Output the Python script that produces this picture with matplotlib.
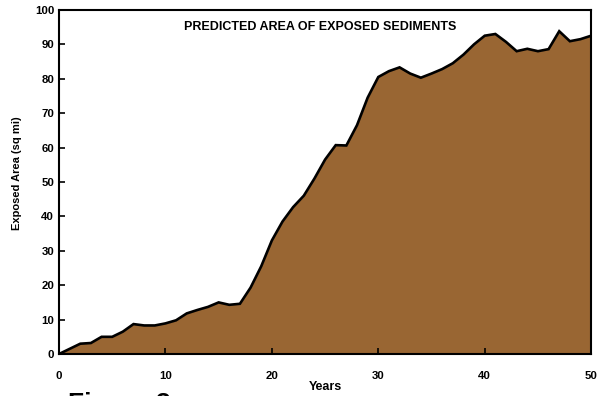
import matplotlib
matplotlib.use('Agg')
import matplotlib.pyplot as plt
import numpy as np

plt.rcParams['font.family'] = ['Liberation Sans', 'DejaVu Sans']
plt.rcParams['font.weight'] = 'bold'

# predicted exposed area per year (sq mi)
years = np.arange(0, 51)
area = [0, 1.5, 3, 3.2, 5, 5, 6.5, 8.7, 8.3, 8.3,
        8.9, 9.8, 11.8, 12.8, 13.7, 15, 14.3, 14.6, 19.3, 25.5,
        33, 38.5, 42.7, 46, 51, 56.5, 60.7, 60.6, 66.5, 74.5,
        80.5, 82.2, 83.3, 81.5, 80.3, 81.5, 82.8, 84.5, 87, 90,
        92.5, 93, 90.7, 88, 88.7, 88, 88.6, 93.8, 90.9, 91.5,
        92.5]
x_ticks = [0, 10, 20, 30, 40, 50]
y_ticks = list(range(0, 101, 10))

fig = plt.figure(figsize=(6.02, 3.96), dpi=100)
ax = fig.add_axes([0.098, 0.106, 0.884, 0.869])

ax.fill_between(years, area, 0, color='#996633', linewidth=0)
ax.plot(years, area, color='black', linewidth=1.9, solid_joinstyle='miter')

ax.set_xlim(0, 50)
ax.set_ylim(0, 100)
ax.set_xticks(x_ticks)
ax.set_yticks(y_ticks)
ax.tick_params(direction='in', length=4, width=1.2, labelsize=8.2)
ax.tick_params(axis='x', pad=12)
for s in ax.spines.values():
    s.set_linewidth(1.5)
for lab in ax.get_xticklabels() + ax.get_yticklabels():
    lab.set_fontweight('bold')

# title sits inside the plot box
ax.text(0.49, 0.95, 'PREDICTED AREA OF EXPOSED SEDIMENTS', transform=ax.transAxes,
        ha='center', va='center', fontsize=9, fontweight='bold')
fig.text(0.029, 0.562, 'Exposed Area (sq mi)', rotation=90, ha='center', va='center',
         fontsize=8, fontweight='bold')
fig.text(0.541, 0.023, 'Years', ha='center', va='center', fontsize=9, fontweight='bold')
fig.text(0.113, 0.009, 'Figure 3', ha='left', va='top', fontsize=19, fontweight='bold')

plt.savefig('out.png', dpi=100)
